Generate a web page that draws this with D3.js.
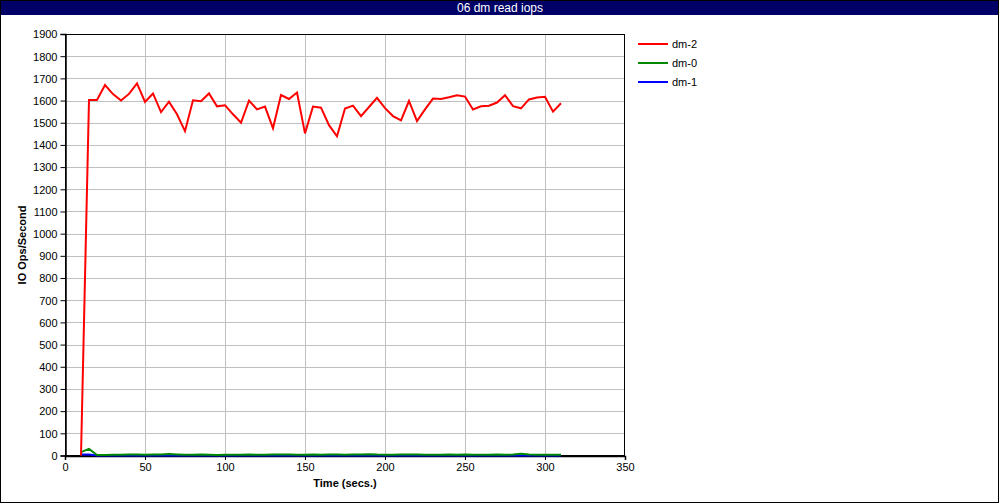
<!DOCTYPE html>
<html><head><meta charset="utf-8">
<script src="https://cdn.jsdelivr.net/npm/d3@7"></script>
<style>
html,body{margin:0;padding:0;background:#fff;}
svg{display:block;font-family:"Liberation Sans",Arial,sans-serif;}
</style></head>
<body><svg id="c" width="1000" height="504"></svg>
<script>
const title = "06 dm read iops";
const xLabel = "Time (secs.)";
const yLabel = "IO Ops/Second";
const seriesNames = ["dm-2", "dm-0", "dm-1"];
const seriesColors = ["#ff0000", "#008800", "#0000ff"];
const xTicks = [0, 50, 100, 150, 200, 250, 300, 350];
const yTicks = [0,100,200,300,400,500,600,700,800,900,1000,1100,1200,1300,1400,1500,1600,1700,1800,1900];
const times = [10,15,20,25,30,35,40,45,50,55,60,65,70,75,80,85,90,95,100,105,110,115,120,125,130,135,140,145,150,155,160,165,170,175,180,185,190,195,200,205,210,215,220,225,230,235,240,245,250,255,260,265,270,275,280,285,290,295,300,305,310];
const dm2 = [0,1603,1603,1670,1629,1600,1630,1677,1594,1632,1548,1595,1538,1462,1601,1597,1632,1574,1579,1538,1500,1600,1560,1573,1475,1625,1607,1636,1452,1573,1568,1489,1439,1564,1577,1530,1571,1612,1566,1530,1511,1598,1507,1560,1609,1607,1615,1624,1618,1560,1574,1577,1591,1624,1575,1565,1605,1614,1617,1550,1588];
const dm0 = [15,30,2,2,3,3,4,5,3,4,5,7,5,3,3,4,3,2,3,3,3,4,3,3,4,5,4,3,3,4,3,5,4,3,4,5,6,4,3,3,5,5,4,3,3,3,4,3,4,3,3,3,4,3,4,8,4,3,3,3,3];
const dm1 = [5,5,0,0,0,0,0,0,0,0,0,0,0,0,0,0,0,0,0,0,0,0,0,0,0,0,0,0,0,0,0,0,0,0,0,0,0,0,0,0,0,0,0,0,0,0,0,0,0,0,0,0,0,0,0,0,0,0,0,0,0];

const svg = d3.select("#c");
const W = 1000, H = 504;
svg.append("rect").attr("x",0.5).attr("y",0.5).attr("width",W-2).attr("height",H-2)
  .attr("fill","#fff").attr("stroke","#000");
svg.append("rect").attr("x",1).attr("y",1).attr("width",W-3).attr("height",14).attr("fill","#000066");
svg.append("text").attr("x",500).attr("y",12).attr("text-anchor","middle")
  .attr("fill","#fff").attr("font-size",12).text(title);

const L = 65, R = 625, T = 34, B = 455.5;
const x = d3.scaleLinear().domain([0,350]).range([L,R]);
const y = d3.scaleLinear().domain([0,1900]).range([B,T]);

const g = svg.append("g");
// grid
g.selectAll(".gx").data(xTicks.slice(1,-1)).join("line")
  .attr("x1",d=>Math.round(x(d))+0.5).attr("x2",d=>Math.round(x(d))+0.5)
  .attr("y1",T).attr("y2",B).attr("stroke","#c0c0c0");
g.selectAll(".gy").data(yTicks.slice(1,-1)).join("line")
  .attr("y1",d=>Math.round(y(d))+0.5).attr("y2",d=>Math.round(y(d))+0.5)
  .attr("x1",L).attr("x2",R).attr("stroke","#c0c0c0");

// frame
g.append("rect").attr("x",L+0.5).attr("y",T+0.5).attr("width",R-L-1).attr("height",B-T-0.5)
  .attr("fill","none").attr("stroke","#000");

// axes
const xAxis = d3.axisBottom(x).tickValues(xTicks).tickSize(4).tickPadding(3).tickFormat(d3.format("d"));
const gx = svg.append("g").attr("transform",`translate(0,${Math.round(B)})`).call(xAxis);
const yAxis = d3.axisLeft(y).tickValues(yTicks).tickSize(5).tickPadding(3).tickFormat(d3.format("d"));
const gy = svg.append("g").attr("transform",`translate(${L+0.5},0)`).call(yAxis);
[gx,gy].forEach(a=>{
  a.select(".domain").attr("stroke","#000").attr("stroke-width",1.5);
  a.selectAll(".tick line").attr("stroke","#000");
  a.selectAll("text").attr("font-size",11).attr("fill","#000").attr("font-family","'Liberation Sans',Arial,sans-serif");
});
gy.selectAll(".tick text").attr("dy","0.35em");

svg.append("text").attr("x",345).attr("y",487).attr("text-anchor","middle")
  .attr("font-size",11).attr("font-weight","bold").text(xLabel);
svg.append("text").attr("transform","translate(26,245) rotate(-90)").attr("text-anchor","middle")
  .attr("font-size",11).attr("font-weight","bold").text(yLabel);

// lines
const seriesData = [dm1, dm0, dm2];
const seriesIdx = [2, 1, 0];
const line = d3.line().x((d,i)=>x(times[i])).y(d=>y(d));
seriesData.forEach((s,k)=>{
  svg.append("path").datum(s).attr("d",line).attr("fill","none")
    .attr("stroke",seriesColors[seriesIdx[k]]).attr("stroke-width",2).attr("stroke-linejoin","miter");
});

// legend
const lg = svg.append("g");
seriesNames.forEach((n,i)=>{
  const yy = 44 + i*19;
  lg.append("line").attr("x1",638).attr("x2",668).attr("y1",yy).attr("y2",yy)
    .attr("stroke",seriesColors[i]).attr("stroke-width",2);
  lg.append("text").attr("x",672).attr("y",yy+4).attr("font-size",11).text(n);
});
</script></body></html>
